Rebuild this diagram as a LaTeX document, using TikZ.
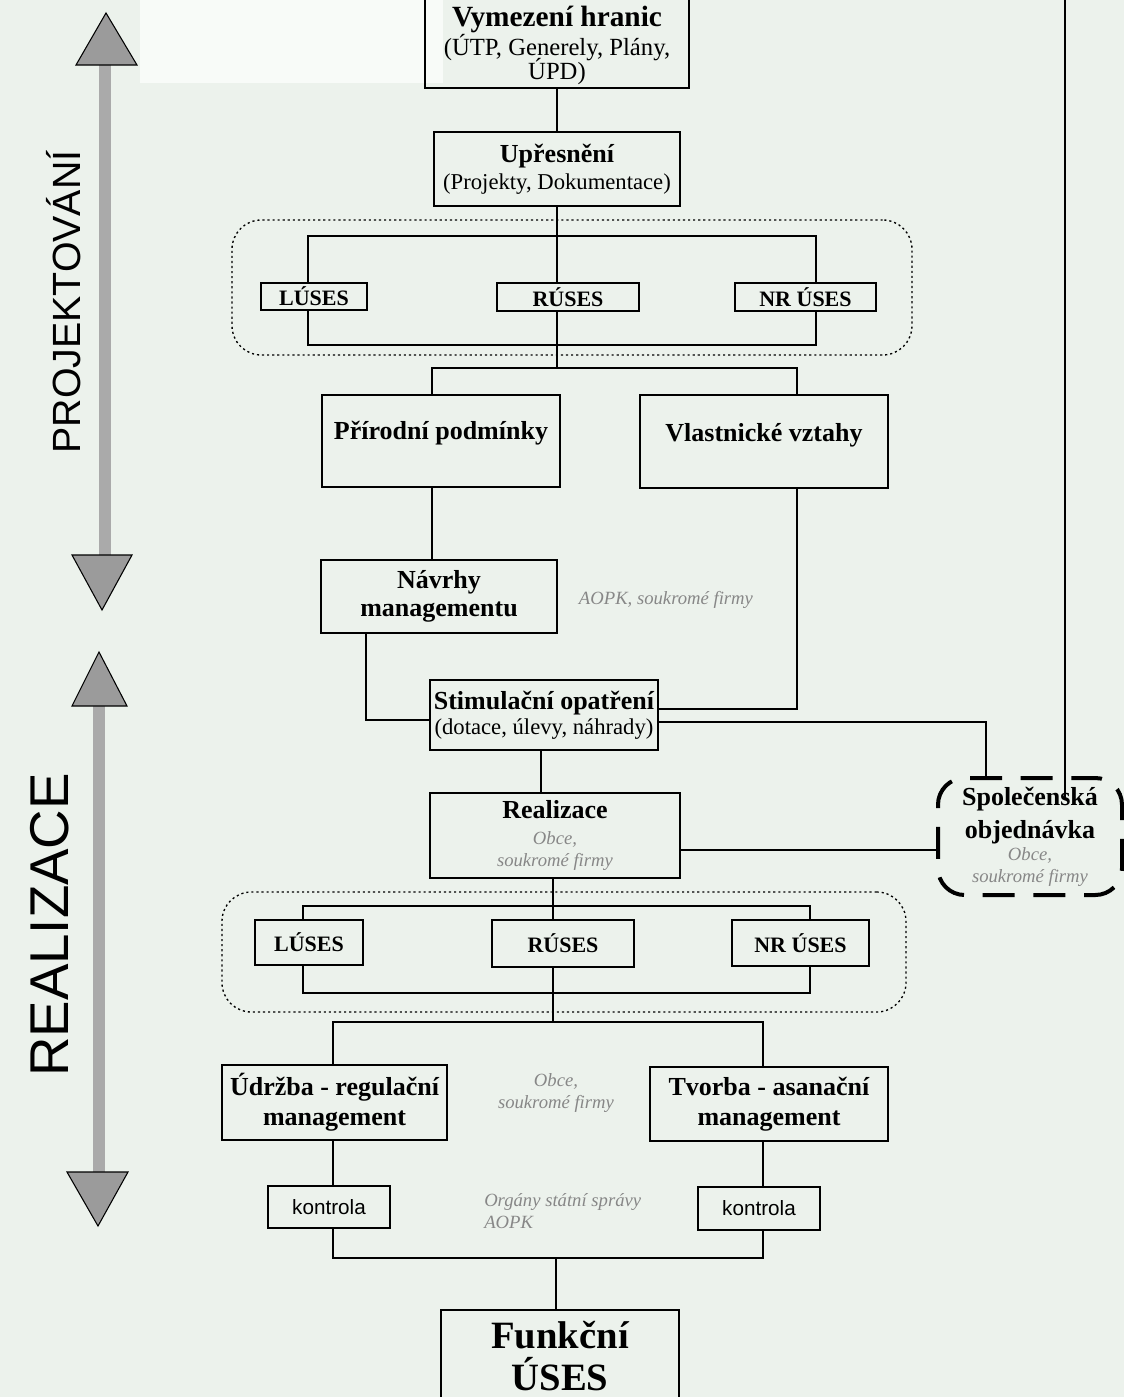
\documentclass[tikz,border=0pt]{standalone}
\usepackage{fontspec}
\setmainfont{Liberation Serif}
\setsansfont{Liberation Sans}
\usetikzlibrary{calc}

\definecolor{paper}{RGB}{236,242,236}
\definecolor{patch}{RGB}{248,251,248}
\definecolor{notegray}{RGB}{135,135,135}
\definecolor{shaftgray}{RGB}{170,170,170}
\definecolor{tipgray}{RGB}{155,155,155}

% font switches used inside the boxes (size only, line spacing comes from the node font)
\newcommand\boxtitle{\bfseries\fontsize{19.5}{22}\selectfont}
\newcommand\boxsub{\mdseries\fontsize{17}{19}\selectfont}
\newcommand\boxsmall{\bfseries\fontsize{16.5}{19}\selectfont}
\newcommand\notetext{\itshape\fontsize{14}{16}\selectfont\color{notegray}}
\newcommand\skipof[1]{\fontsize{10}{#1}\selectfont}

\tikzset{
  wh/.style 2 args={minimum width=#1*0.75pt, minimum height=#2*0.75pt},
  box/.style={draw, line width=1.4pt, inner sep=0pt, align=center},
  conn/.style={line width=1.3pt},
  group/.style={draw, line width=1pt, dash pattern=on 1.6pt off 2.2pt,
                rounded corners=22pt, inner sep=0pt},
  orderbox/.style={draw, line width=3pt, dash pattern=on 24pt off 14pt,
                   dash phase=6pt, rounded corners=20pt, inner sep=0pt, align=center},
  note/.style={align=center, inner sep=0pt},
  line/.style={anchor=base, inner sep=0pt},
  tri/.style={draw=black, line width=0.8pt, fill=tipgray},
  phase/.style={rotate=90, anchor=base, inner sep=0pt},
}

\begin{document}
\begin{tikzpicture}[x=0.75pt,y=-0.75pt]
\useasboundingbox (0,0) rectangle (1124,1397);
\fill[paper] (0,0) rectangle (1124,1397);
\fill[patch] (140,0) rectangle (443,83);

% phase arrows on the left
\fill[shaftgray] (99,65) rectangle (111,555);
\draw[tri] (76,65) -- (137,65) -- (106,13) -- cycle;
\draw[tri] (72,555) -- (132,555) -- (102,610) -- cycle;
\fill[shaftgray] (93,706) rectangle (105,1172);
\draw[tri] (72,706) -- (127,706) -- (99,652) -- cycle;
\draw[tri] (67,1172) -- (128,1172) -- (98,1226) -- cycle;
\node[phase, font=\sffamily\fontsize{29.5}{30}\selectfont] (lblproj) at (80,302) {PROJEKTOVÁNÍ};
\node[phase, font=\sffamily\fontsize{41}{42}\selectfont] (lblreal) at (68,925) {REALIZACE};

% planning stage
\node[box, wh={264}{90}] (vym) at (557,43) {};
\node[line, font=\bfseries\fontsize{22}{24}\selectfont] (vymt1) at (557,26) {Vymezení hranic};
\node[line, font=\fontsize{18.5}{20}\selectfont] (vymt2) at (557,55) {(ÚTP, Generely, Plány,};
\node[line, font=\fontsize{18.5}{20}\selectfont] (vymt3) at (557,79) {ÚPD)};
\node[box, wh={246}{74}, font=\skipof{20}] (upr) at (557,169)
  {\boxtitle Upřesnění\\\boxsub (Projekty, Dokumentace)};

\node[group, wh={680}{135}] (grp1) at (572,287.5) {};
\node[box, wh={106}{27}] (lus1) at (314,296.5) {\boxsmall LÚSES};
\node[box, wh={142}{28}] (rus1) at (568,297) {\boxsmall RÚSES};
\node[box, wh={141}{28}] (nr1) at (805.5,297) {\boxsmall NR ÚSES};

\node[box, wh={238}{92}] (prir) at (441,441) {};
\node[inner sep=0pt] (prirt) at (441,433) {\boxtitle Přírodní podmínky};
\node[box, wh={248}{93}] (vlas) at (764,441.5) {};
\node[inner sep=0pt] (vlast) at (764,435) {\boxtitle Vlastnické vztahy};

\node[box, wh={236}{73}, font=\skipof{21}] (navr) at (439,596.5)
  {\boxtitle Návrhy\\\boxtitle managementu};
\node[note] (note1) at (666,600) {\notetext AOPK, soukromé firmy};

\node[box, wh={228}{70}, font=\skipof{19}] (stim) at (544,715)
  {\boxtitle Stimulační opatření\\\boxsub (dotace, úlevy, náhrady)};

% realisation stage
\node[box, wh={250}{85}, font=\skipof{16.5}] (real) at (555,835.5)
  {\boxtitle Realizace\\[2.5pt]\notetext Obce,\\\notetext soukromé firmy};
\node[orderbox, wh={184}{117}, font=\skipof{16.5}] (spol) at (1030,836.5)
  {\boxtitle Společenská\\[6pt]\boxtitle objednávka\\\notetext Obce,\\\notetext soukromé firmy};

\node[group, wh={684}{120}] (grp2) at (564,952) {};
\node[box, wh={108}{45}] (lus2) at (309,942.5) {\boxsmall LÚSES};
\node[box, wh={142}{47}] (rus2) at (563,943.5) {\boxsmall RÚSES};
\node[box, wh={137}{46}] (nr2) at (800.5,943) {\boxsmall NR ÚSES};

\node[box, wh={225}{75}, font=\skipof{22.5}] (udr) at (334.5,1102.5)
  {\boxtitle Údržba - regulační\\\boxtitle management};
\node[box, wh={238}{74}, font=\skipof{22.5}] (tvor) at (769,1104)
  {\boxtitle Tvorba - asanační\\\boxtitle management};
\node[note, font=\skipof{16}] (note2) at (556,1093) {\notetext Obce,\\\notetext soukromé firmy};

\node[box, wh={122}{42}, font=\sffamily\fontsize{15.5}{17}\selectfont] (kon1) at (329,1207) {kontrola};
\node[box, wh={122}{43}, font=\sffamily\fontsize{15.5}{17}\selectfont] (kon2) at (759,1208.5) {kontrola};
\node[note, anchor=west, align=left, font=\skipof{16}] (note3) at (484,1211)
  {\notetext Orgány státní správy\\\notetext AOPK};

\node[box, wh={238}{102}] (fun) at (560,1361) {};
\node[line, font=\bfseries\fontsize{29}{30}\selectfont] (funt1) at (560,1348) {Funkční};
\node[line, font=\bfseries\fontsize{29}{30}\selectfont] (funt2) at (560,1390) {ÚSES};

% junction points
\coordinate (q1) at (308,236);
\coordinate (q2) at (816,345);
\coordinate (s1c) at (557,368);
\coordinate (s1l) at (432,368);
\coordinate (s1r) at (797,368);
\coordinate (b1) at (366,720);
\coordinate (b2) at (797,709);
\coordinate (b3) at (986,722);
\coordinate (ax2) at (541,760);
\coordinate (b4) at (940,850);
\coordinate (tr) at (1065,-5);
\coordinate (q3) at (303,906);
\coordinate (q4) at (810,993);
\coordinate (ax3) at (553,1022);
\coordinate (s2l) at (333,1022);
\coordinate (s2r) at (763,1022);
\coordinate (jn) at (556,1258);

% connectors
\draw[conn] (vym.south) -- (upr.north);
\draw[conn] (upr.south) -- (upr.south |- rus1.north);
\draw[conn] (upr.south |- rus1.south) -- (s1c);
\draw[conn] (lus1.north -| q1) -- (q1) -- (q1 -| q2) -- (nr1.north -| q2);
\draw[conn] (lus1.south -| q1) -- (q1 |- q2) -- (q2) -- (nr1.south -| q2);
\draw[conn] (s1l |- prir.north) -- (s1l) -- (s1r) -- (s1r |- vlas.north);
\draw[conn] (prir.south -| s1l) -- (navr.north -| s1l);
\draw[conn] (navr.south -| b1) -- (b1) -- (b1 -| stim.west);
\draw[conn] (vlas.south -| b2) -- (b2) -- (b2 -| stim.east);
\draw[conn] (b3 -| stim.east) -- (b3) -- (b3 |- spol.north);
\draw[conn] (stim.south -| ax2) -- (real.north -| ax2);
\draw[conn] (b4 -| real.east) -- (b4 -| spol.west);
\draw[conn] (tr) -- ($(tr |- spol.north)+(0,22)$);

\draw[conn] (real.south -| ax3) -- (rus2.north -| ax3);
\draw[conn] (rus2.south -| ax3) -- (ax3);
\draw[conn] (lus2.north -| q3) -- (q3) -- (q3 -| q4) -- (nr2.north -| q4);
\draw[conn] (lus2.south -| q3) -- (q3 |- q4) -- (q4) -- (nr2.south -| q4);
\draw[conn] (s2l |- udr.north) -- (s2l) -- (s2r) -- (s2r |- tvor.north);
\draw[conn] (udr.south -| s2l) -- (kon1.north -| s2l);
\draw[conn] (tvor.south -| s2r) -- (kon2.north -| s2r);
\draw[conn] (kon1.south -| s2l) -- (s2l |- jn) -- (s2r |- jn) -- (kon2.south -| s2r);
\draw[conn] (jn) -- (fun.north -| jn);
\end{tikzpicture}
\end{document}
